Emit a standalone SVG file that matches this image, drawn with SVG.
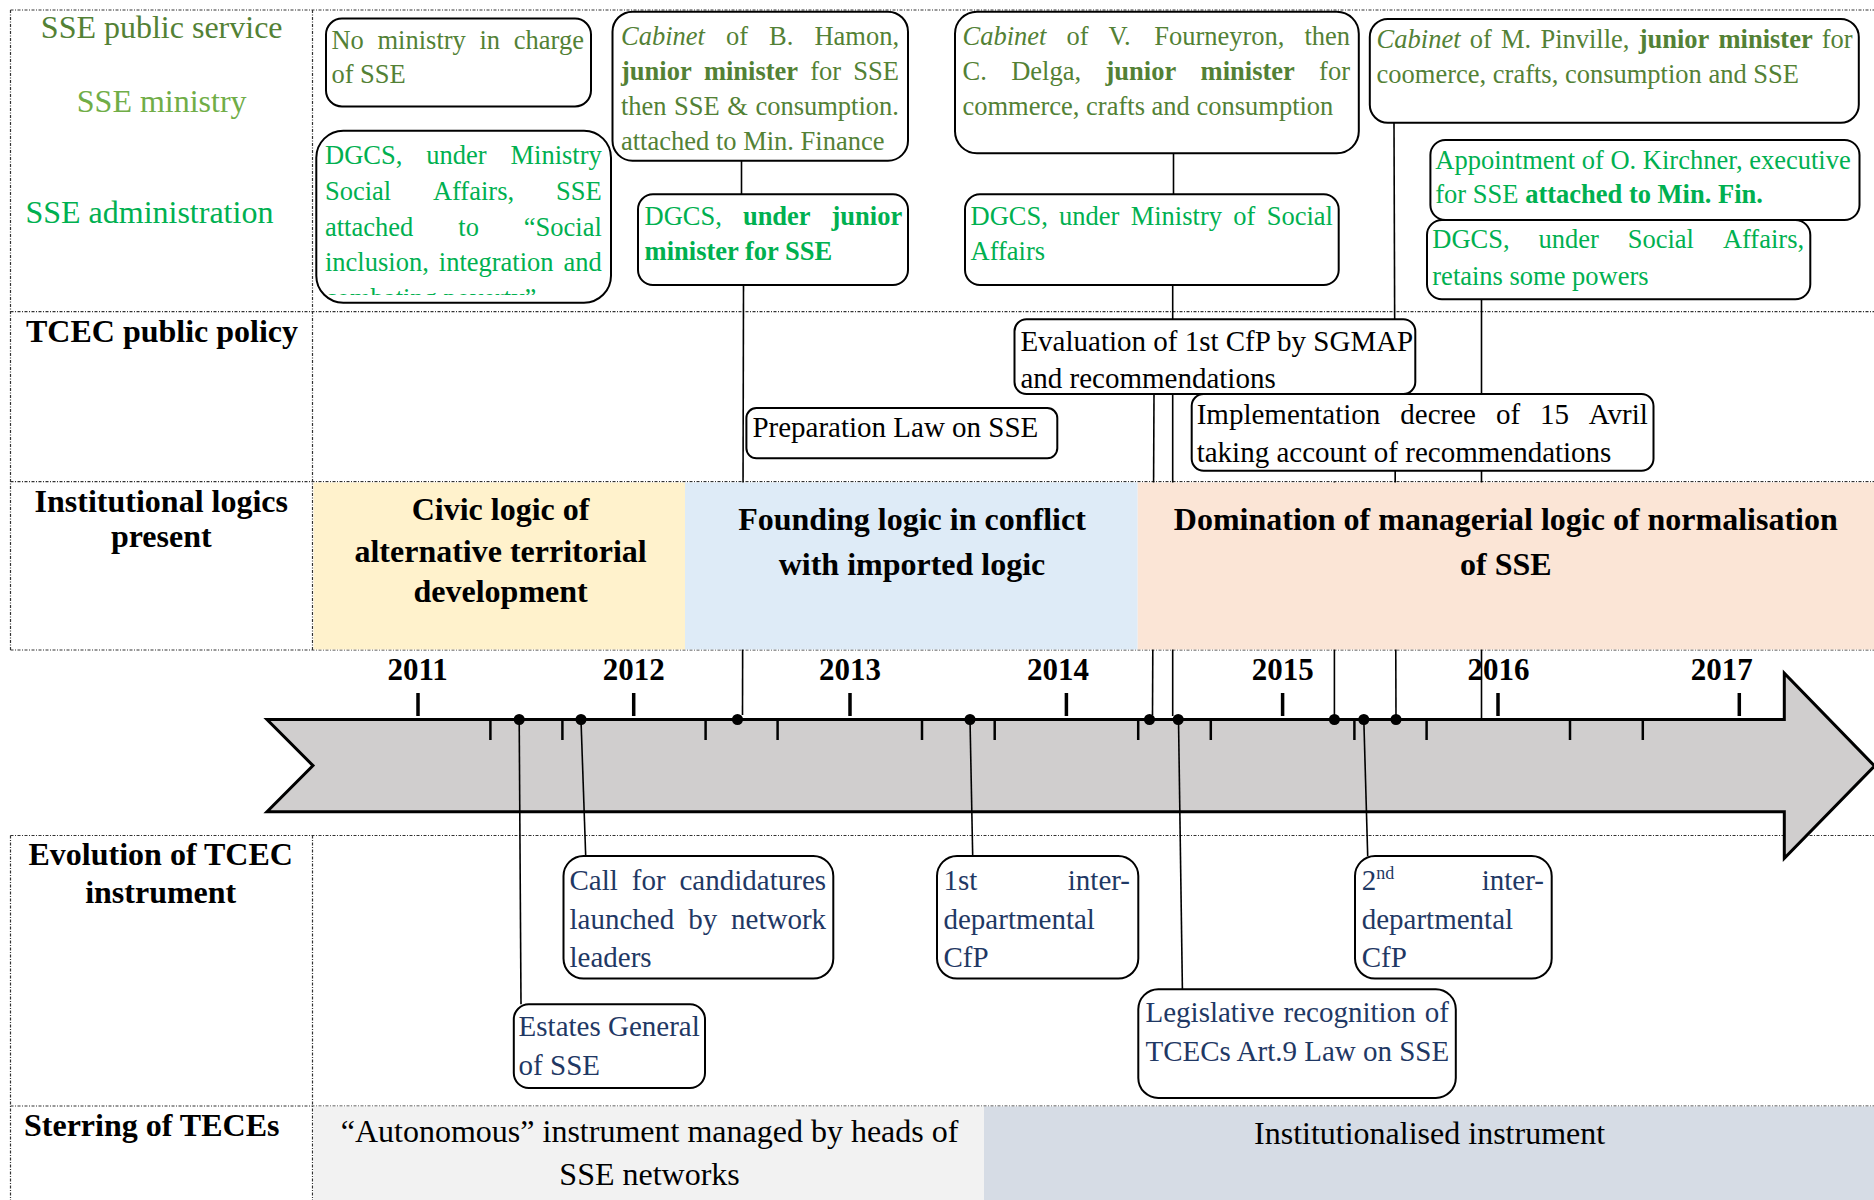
<svg xmlns="http://www.w3.org/2000/svg" width="1874" height="1200" viewBox="0 0 1874 1200">
<defs>
<style>
text{font-family:"Liberation Serif","Times New Roman",serif;fill:#000}
.s26{font-size:26.5px}
.s29{font-size:29px}
.s31{font-size:31px}
.s32{font-size:32px}
.b{font-weight:bold}
.i{font-style:italic}
.ol{fill:#538135}
.gr{fill:#00b050}
.mg{fill:#70ad47}
.nv{fill:#1f3864}
.mid{text-anchor:middle}
.box{fill:#fff;stroke:#000;stroke-width:2}
.conn{stroke:#000;stroke-width:1.6;fill:none}
.row{stroke:#333;stroke-width:1.2;stroke-dasharray:3 1.5 1 1.5;fill:none}
.tick{stroke:#000;stroke-width:3.5}
.stick{stroke:#000;stroke-width:2.5}
.dot{fill:#000}
</style>
<clipPath id="clipB"><rect x="316" y="130" width="296" height="165"/></clipPath>
</defs>
<rect x="0" y="0" width="1874" height="1200" fill="#fff"/>

<g id="grid" class="row">
<path d="M10.5,10 H1874 M10.5,311.7 H1874 M10.5,481.7 H1874 M10.5,650 H1874 M10.5,835.5 H1874 M10.5,1106 H1874"/>
<path d="M10.5,10 V650 M312.5,10 V650 M10.5,835.5 V1200 M312.5,835.5 V1200"/>
</g>

<g id="timeline">
<polygon points="267,719.5 1784.3,719.5 1784.3,673.3 1874.5,766 1784.3,858.3 1784.3,811.7 267,811.7 313,765.6" fill="#d0cece" stroke="#000" stroke-width="3"/>
<g class="tick">
<line x1="418" y1="693" x2="418" y2="716"/>
<line x1="633.7" y1="693" x2="633.7" y2="716"/>
<line x1="850" y1="693" x2="850" y2="716"/>
<line x1="1066.4" y1="693" x2="1066.4" y2="716"/>
<line x1="1282.6" y1="693" x2="1282.6" y2="716"/>
<line x1="1498" y1="693" x2="1498" y2="716"/>
<line x1="1739.3" y1="693" x2="1739.3" y2="716"/>
</g>
<g class="stick">
<line x1="490.4" y1="719" x2="490.4" y2="740"/>
<line x1="562.4" y1="719" x2="562.4" y2="740"/>
<line x1="705.6" y1="719" x2="705.6" y2="740"/>
<line x1="777.6" y1="719" x2="777.6" y2="740"/>
<line x1="922" y1="719" x2="922" y2="740"/>
<line x1="994.7" y1="719" x2="994.7" y2="740"/>
<line x1="1138.2" y1="719" x2="1138.2" y2="740"/>
<line x1="1210.8" y1="719" x2="1210.8" y2="740"/>
<line x1="1354.4" y1="719" x2="1354.4" y2="740"/>
<line x1="1426.6" y1="719" x2="1426.6" y2="740"/>
<line x1="1570" y1="719" x2="1570" y2="740"/>
<line x1="1642.8" y1="719" x2="1642.8" y2="740"/>
</g>
<g class="s31 b mid">
<text x="417.7" y="680">2011</text>
<text x="633.7" y="680">2012</text>
<text x="850" y="680">2013</text>
<text x="1058" y="680">2014</text>
<text x="1282.7" y="680">2015</text>
<text x="1498.5" y="680">2016</text>
<text x="1721.7" y="680">2017</text>
</g>
</g>

<g id="connectors" class="conn">
<path d="M741.5,160.7 V194.3"/>
<path d="M743.5,285 L742.5,715"/>
<path d="M1173.5,153.3 V194.3"/>
<path d="M1172.7,285 V319.3"/>
<path d="M1154,394 L1152.5,715"/>
<path d="M1172.7,394 V716"/>
<path d="M1178.5,719 L1182.4,989.3"/>
<path d="M1394,122.7 L1396,719"/>
<path d="M1334.4,482 V719"/>
<path d="M1481.5,203 V220"/>
<path d="M1481.5,299.3 V719"/>
<path d="M970,719 L972.7,856"/>
<path d="M1363.8,719 L1367.7,856"/>
<path d="M519.2,720 L521,1004.3"/>
<path d="M581,720 L585.7,856"/>
</g>

<g id="logics">
<rect x="313.5" y="482.5" width="371.5" height="167" fill="#fff2cc"/>
<rect x="685" y="482.5" width="452.7" height="167" fill="#deebf7"/>
<rect x="1137.7" y="482.5" width="736.3" height="167" fill="#fbe5d6"/>
<text class="s32 b mid" x="500.6" y="520">Civic logic of</text>
<text class="s32 b mid" x="500.6" y="561.7">alternative territorial</text>
<text class="s32 b mid" x="500.6" y="601.7">development</text>
<text class="s32 b mid" x="912" y="530">Founding logic in conflict</text>
<text class="s32 b mid" x="912" y="575">with imported logic</text>
<text class="s32 b mid" x="1505.8" y="530">Domination of managerial logic of normalisation</text>
<text class="s32 b mid" x="1505.8" y="575">of SSE</text>
</g>

<g id="steering">
<rect x="313.5" y="1106.5" width="670.5" height="94" fill="#f2f2f2"/>
<rect x="984" y="1106.5" width="890" height="94" fill="#d6dce5"/>
<text class="s32 mid" x="649.6" y="1141.8">“Autonomous” instrument managed by heads of</text>
<text class="s32 mid" x="649.6" y="1184.6">SSE networks</text>
<text class="s32 mid" x="1429.6" y="1143.6">Institutionalised instrument</text>
</g>

<g id="row-labels">
<text class="s32 ol mid" x="161.7" y="37.7">SSE public service</text>
<text class="s32 mg mid" x="161.7" y="111.7">SSE ministry</text>
<text class="s32 gr mid" x="149.4" y="222.7">SSE administration</text>
<text class="s32 b mid" x="162" y="342">TCEC public policy</text>
<text class="s32 b mid" x="161.3" y="511.7">Institutional logics</text>
<text class="s32 b mid" x="161.3" y="546.7">present</text>
<text class="s32 b mid" x="160.7" y="865">Evolution of TCEC</text>
<text class="s32 b mid" x="160.7" y="902.5">instrument</text>
<text class="s32 b" x="24" y="1136.4">Sterring of TECEs</text>
</g>

<g id="n-no-ministry">
<rect class="box" x="326" y="18.5" width="265" height="88" rx="16"/>
<text class="s26 ol" y="49"><tspan x="331.4">No</tspan><tspan x="377.5">ministry</tspan><tspan x="479.5">in</tspan><tspan x="513.8">charge</tspan></text>
<text class="s26 ol" x="331.4" y="83">of SSE</text>
</g>

<g id="n-dgcs-social">
<rect class="box" x="316.3" y="130.7" width="294.7" height="172" rx="27"/>
<g clip-path="url(#clipB)">
<text class="s26 gr" y="164.3"><tspan x="325">DGCS,</tspan><tspan x="426.3">under</tspan><tspan x="510.5">Ministry</tspan></text>
<text class="s26 gr" y="200"><tspan x="325">Social</tspan><tspan x="432.9">Affairs,</tspan><tspan x="556.1">SSE</tspan></text>
<text class="s26 gr" y="235.5"><tspan x="325">attached</tspan><tspan x="458.3">to</tspan><tspan x="523.8">“Social</tspan></text>
<text class="s26 gr" y="271"><tspan x="325">inclusion,</tspan><tspan x="438.8">integration</tspan><tspan x="563.5">and</tspan></text>
<text class="s26 gr" x="325" y="306.5">combating poverty”</text>
</g>
</g>

<g id="n-hamon">
<rect class="box" x="612.5" y="11.7" width="295.5" height="149" rx="20"/>
<text class="s26 ol" y="45"><tspan x="621" class="i">Cabinet</tspan><tspan x="725.9">of</tspan><tspan x="769">B.</tspan><tspan x="814.4">Hamon,</tspan></text>
<text class="s26 ol" y="80"><tspan x="621" class="b">junior</tspan><tspan x="703.9" class="b">minister</tspan><tspan x="810.3">for</tspan><tspan x="853.3">SSE</tspan></text>
<text class="s26 ol" y="115"><tspan x="621">then</tspan><tspan x="674.1">SSE</tspan><tspan x="727.3">&amp;</tspan><tspan x="755.4">consumption.</tspan></text>
<text class="s26 ol" x="621" y="150">attached to Min. Finance</text>
</g>

<g id="n-dgcs-junior">
<rect class="box" x="638" y="194.3" width="270" height="90.7" rx="15"/>
<text class="s26 gr" y="225"><tspan x="644.6">DGCS,</tspan><tspan x="742.9" class="b">under</tspan><tspan x="831.5" class="b">junior</tspan></text>
<text class="s26 gr b" x="644.6" y="259.5">minister for SSE</text>
</g>

<g id="n-fourneyron">
<rect class="box" x="955" y="11.7" width="403.8" height="141.6" rx="22"/>
<text class="s26 ol" y="45"><tspan x="962.5" class="i">Cabinet</tspan><tspan x="1066.4">of</tspan><tspan x="1108.4">V.</tspan><tspan x="1154.2">Fourneyron,</tspan><tspan x="1304.4">then</tspan></text>
<text class="s26 ol" y="80"><tspan x="962.5">C.</tspan><tspan x="1011.2">Delga,</tspan><tspan x="1105.5" class="b">junior</tspan><tspan x="1200.6" class="b">minister</tspan><tspan x="1319.1">for</tspan></text>
<text class="s26 ol" x="962.5" y="115">commerce, crafts and consumption</text>
</g>

<g id="n-dgcs-ministry">
<rect class="box" x="965" y="194.3" width="373.7" height="90.7" rx="15"/>
<text class="s26 gr" y="225"><tspan x="970.5">DGCS,</tspan><tspan x="1059.1">under</tspan><tspan x="1130.7">Ministry</tspan><tspan x="1233.3">of</tspan><tspan x="1266.7">Social</tspan></text>
<text class="s26 gr" x="970.5" y="259.5">Affairs</text>
</g>

<g id="n-pinville">
<rect class="box" x="1369.8" y="19" width="489" height="103.7" rx="18"/>
<text class="s26 ol" y="48"><tspan x="1376.6" class="i">Cabinet</tspan><tspan x="1469.7">of</tspan><tspan x="1501">M.</tspan><tspan x="1540.4">Pinville,</tspan><tspan x="1638.7" class="b">junior</tspan><tspan x="1718.5" class="b">minister</tspan><tspan x="1821.8">for</tspan></text>
<text class="s26 ol" x="1376.6" y="83.3">coomerce, crafts, consumption and SSE</text>
</g>

<g id="n-appointment">
<rect class="box" x="1430.4" y="140" width="429.1" height="80" rx="15"/>
<text class="s26 gr" x="1435.3" y="169.3">Appointment of O. Kirchner, executive</text>
<text class="s26 gr" x="1435.3" y="203.3">for SSE <tspan class="b">attached to Min. Fin.</tspan></text>
</g>

<g id="n-dgcs-retains">
<rect class="box" x="1427" y="220" width="383.3" height="79.3" rx="15"/>
<text class="s26 gr" y="248.3"><tspan x="1432.3">DGCS,</tspan><tspan x="1538.5">under</tspan><tspan x="1627.7">Social</tspan><tspan x="1722.9">Affairs,</tspan></text>
<text class="s26 gr" x="1432.3" y="285">retains some powers</text>
</g>

<g id="n-preparation">
<rect class="box" x="746.4" y="408" width="310.9" height="50.3" rx="10"/>
<text class="s29" x="752.4" y="436.7">Preparation Law on SSE</text>
</g>

<g id="n-evaluation">
<rect class="box" x="1014.5" y="319.3" width="400.8" height="74.7" rx="12"/>
<text class="s29" x="1020.4" y="350.5">Evaluation of 1st CfP by SGMAP</text>
<text class="s29" x="1020.4" y="388.3">and recommendations</text>
</g>

<g id="n-implementation">
<rect class="box" x="1191.7" y="394" width="461.8" height="76.7" rx="12"/>
<text class="s29" y="424"><tspan x="1196.7">Implementation</tspan><tspan x="1400.3">decree</tspan><tspan x="1495.9">of</tspan><tspan x="1540">15</tspan><tspan x="1588.8">Avril</tspan></text>
<text class="s29" x="1196.7" y="461.7">taking account of recommendations</text>
</g>

<g id="n-call">
<rect class="box" x="563.5" y="856" width="269.8" height="122.6" rx="20"/>
<text class="s29 nv" y="890"><tspan x="569.5">Call</tspan><tspan x="631.8">for</tspan><tspan x="679.5">candidatures</tspan></text>
<text class="s29 nv" y="928.6"><tspan x="569.5">launched</tspan><tspan x="688.2">by</tspan><tspan x="731.1">network</tspan></text>
<text class="s29 nv" x="569.5" y="966.8">leaders</text>
</g>

<g id="n-estates">
<rect class="box" x="513.8" y="1004.3" width="191.2" height="83.7" rx="15"/>
<text class="s29 nv" x="518.6" y="1036.4">Estates General</text>
<text class="s29 nv" x="518.6" y="1075">of SSE</text>
</g>

<g id="n-first-cfp">
<rect class="box" x="937" y="856" width="201.3" height="122.6" rx="20"/>
<text class="s29 nv" y="890"><tspan x="943.5">1st</tspan><tspan x="1067.8">inter-</tspan></text>
<text class="s29 nv" x="943.5" y="928.6">departmental</text>
<text class="s29 nv" x="943.5" y="966.8">CfP</text>
</g>

<g id="n-second-cfp">
<rect class="box" x="1355" y="856" width="196.7" height="122.6" rx="20"/>
<text class="s29 nv" y="890"><tspan x="1361.7">2</tspan><tspan font-size="18" dy="-11">nd</tspan><tspan x="1481.7" dy="11">inter-</tspan></text>
<text class="s29 nv" x="1361.7" y="928.6">departmental</text>
<text class="s29 nv" x="1361.7" y="966.8">CfP</text>
</g>

<g id="n-legislative">
<rect class="box" x="1138.3" y="989.3" width="317.5" height="108.6" rx="20"/>
<text class="s29 nv" y="1022"><tspan x="1145.5">Legislative</tspan><tspan x="1283.6">recognition</tspan><tspan x="1424.8">of</tspan></text>
<text class="s29 nv" x="1145.5" y="1060.7">TCECs Art.9 Law on SSE</text>
</g>

<g id="events">
<circle class="dot" cx="519.2" cy="719.5" r="5.5"/>
<circle class="dot" cx="581" cy="719.5" r="5.5"/>
<circle class="dot" cx="737.5" cy="719.5" r="5.5"/>
<circle class="dot" cx="970" cy="719.5" r="5.5"/>
<circle class="dot" cx="1149.5" cy="719.5" r="5.5"/>
<circle class="dot" cx="1178.2" cy="719.5" r="5.5"/>
<circle class="dot" cx="1334.4" cy="719.5" r="5.5"/>
<circle class="dot" cx="1363.8" cy="719.5" r="5.5"/>
<circle class="dot" cx="1396" cy="719.5" r="5.5"/>
</g>
</svg>
